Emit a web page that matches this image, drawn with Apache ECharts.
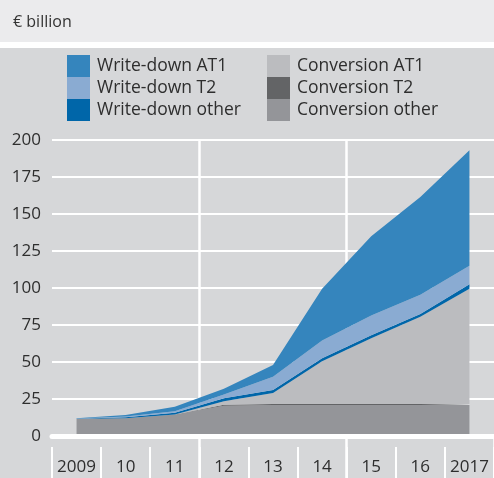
<!DOCTYPE html>
<html><head><meta charset="utf-8">
<script src="https://cdn.jsdelivr.net/npm/echarts@6/dist/echarts.min.js"></script>
<style>html,body{margin:0;padding:0;background:#fff;}#c{width:494px;height:478px;}</style>
</head><body><div id="c"></div>
<script>
const years = ['2009','10','11','12','13','14','15','16','2017'];
const conversionOther = [11.5, 12, 14.5, 20.5, 21, 21, 21, 21, 21];
const conversionT2    = [0, 0, 0, 0.6, 0.7, 0.7, 0.7, 0.7, 0.7];
const conversionAT1   = [0, 0, 0, 2.4, 7.3, 28.8, 44.3, 58.8, 77.8];
const writeDownOther  = [0.2, 0.7, 1.2, 2, 2, 2, 2, 2, 3];
const writeDownT2     = [0.1, 0.5, 1, 2.5, 9, 12, 13.5, 13, 12.5];
const writeDownAT1    = [0.2, 1, 3, 4, 8, 35, 53.5, 66, 78];
const yMin = 0, yMax = 200, yStep = 25;
const unitLabel = '€ billion';

const FONT = 'Open Sans';
const TXT = '#2e2e2e';

const seriesDefs = [
  {name: 'Conversion other', data: conversionOther, color: '#949599'},
  {name: 'Conversion T2', data: conversionT2, color: '#636466'},
  {name: 'Conversion AT1', data: conversionAT1, color: '#bbbcbf'},
  {name: 'Write-down other', data: writeDownOther, color: '#0066a9'},
  {name: 'Write-down T2', data: writeDownT2, color: '#8aabd2'},
  {name: 'Write-down AT1', data: writeDownAT1, color: '#3585bd'}
];

const majorFn = function (i) { return i === 3 || i === 6; };

const chart = echarts.init(document.getElementById('c'), null, {renderer: 'canvas'});
const legendBase = {
  orient: 'vertical', itemWidth: 23, itemHeight: 22, itemGap: 0, icon: 'rect',
  padding: 0, selectedMode: false,
  itemStyle: {borderWidth: 0},
  textStyle: {fontSize: 17.5, color: TXT, fontFamily: FONT, padding: [0, 0, 0, 2]}
};
chart.setOption({
  animation: false,
  backgroundColor: '#d6d7d9',
  textStyle: {fontFamily: FONT},
  title: {
    text: unitLabel, left: 13, top: 14, padding: 0,
    textStyle: {fontSize: 16, fontWeight: 'normal', color: '#333', fontFamily: FONT}
  },
  graphic: [
    {type: 'rect', left: 0, top: 0, z: -1, shape: {width: 494, height: 42}, style: {fill: '#ebebed'}},
    {type: 'rect', left: 0, top: 42, z: -1, shape: {width: 494, height: 6}, style: {fill: '#ffffff'}}
  ],
  legend: [
    Object.assign({}, legendBase, {left: 67, top: 55, data: ['Write-down AT1', 'Write-down T2', 'Write-down other']}),
    Object.assign({}, legendBase, {left: 267, top: 55, data: ['Conversion AT1', 'Conversion T2', 'Conversion other']})
  ],
  grid: {left: 52, right: 0, top: 140, bottom: 42, containLabel: false, outerBoundsMode: 'none'},
  xAxis: [
    {
      type: 'category', data: years, boundaryGap: true, position: 'bottom',
      axisLine: {show: false}, axisTick: {show: false},
      axisLabel: {interval: 0, fontSize: 17, color: TXT, fontFamily: FONT, margin: 23},
      splitLine: {show: true, interval: majorFn, showMinLine: true, showMaxLine: false,
        lineStyle: {color: '#ffffff', width: 2.5}}
    },
    {
      type: 'category', data: years, boundaryGap: true, position: 'bottom', z: 5,
      axisLine: {show: true, lineStyle: {color: '#ffffff', width: 5}},
      axisTick: {show: true, interval: majorFn, length: 42, lineStyle: {color: '#ffffff', width: 2.5}},
      axisLabel: {show: false}, splitLine: {show: false}
    },
    {
      type: 'category', data: years, boundaryGap: true, position: 'bottom', offset: 11, z: 5,
      axisLine: {show: false},
      axisTick: {show: true, interval: 0, length: 31, lineStyle: {color: '#ffffff', width: 2}},
      axisLabel: {show: false}, splitLine: {show: false}
    }
  ],
  yAxis: {
    type: 'value', min: yMin, max: yMax, interval: yStep,
    axisLine: {show: false}, axisTick: {show: false},
    axisLabel: {fontSize: 17, color: TXT, fontFamily: FONT, margin: 11},
    splitLine: {show: true, lineStyle: {color: '#ffffff', width: 2}}
  },
  series: seriesDefs.map(function (s) {
    return {
      name: s.name, type: 'line', stack: 'total', data: s.data, xAxisIndex: 0,
      symbol: 'none', showSymbol: false, color: s.color,
      lineStyle: {width: 0, color: s.color},
      itemStyle: {color: s.color},
      areaStyle: {color: s.color, opacity: 1}
    };
  })
});
</script></body></html>
